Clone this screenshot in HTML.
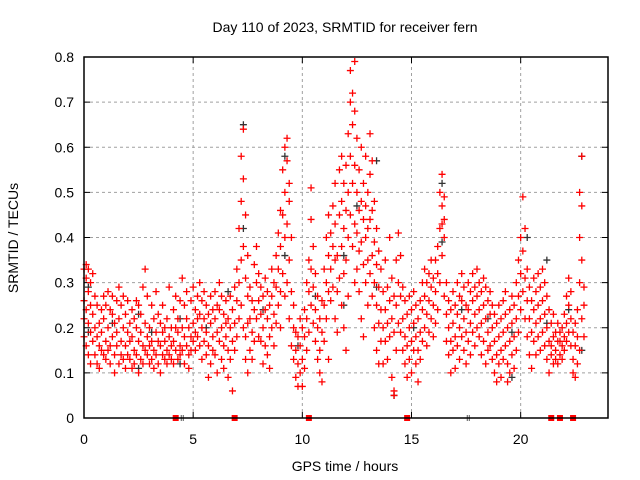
<!DOCTYPE html>
<html><head><meta charset="utf-8"><style>
body{margin:0;background:#fff}
svg{display:block;font-family:"Liberation Sans",sans-serif}
</style></head><body>
<svg id="chart" width="640" height="480" viewBox="0 0 640 480"></svg>
<script>
const xTicks=[0,5,10,15,20];
const yTicks=[0,0.1,0.2,0.3,0.4,0.5,0.6,0.7,0.8];
const yTickLabels=["0","0.1","0.2","0.3","0.4","0.5","0.6","0.7","0.8"];
const redGroups=[
[0.0,[.26,.33,.18,.22]],[0.1,[.31,.16,.24,.34]],[0.2,[.21,.28,.14,.33]],[0.3,[.25,.19,.30,.12]],[0.4,[.17,.32,.23]],
[0.5,[.14,.20,.27]],[0.6,[.12,.18,.25]],[0.7,[.16,.21,.11]],[0.8,[.19,.24,.15]],[0.9,[.22,.14,.27]],
[1.0,[.17,.25,.13]],[1.1,[.20,.28,.15]],[1.2,[.16,.24,.12]],[1.3,[.23,.18,.27]],[1.4,[.14,.21,.10]],
[1.5,[.19,.26,.16]],[1.6,[.12,.22,.29]],[1.7,[.17,.25,.14]],[1.8,[.20,.13,.27]],[1.9,[.16,.23,.11]],
[2.0,[.19,.26,.14]],[2.1,[.13,.21,.17]],[2.2,[.18,.24,.11]],[2.3,[.15,.22,.12]],[2.4,[.20,.14,.26]],
[2.5,[.17,.25,.10]],[2.6,[.13,.19,.23]],[2.7,[.16,.12,.29]],[2.8,[.21,.15,.33]],[2.9,[.14,.18,.27]],
[3.0,[.12,.20,.16]],[3.1,[.17,.25,.13]],[3.2,[.15,.22,.11]],[3.3,[.19,.14,.28]],[3.4,[.12,.17,.23]],
[3.5,[.16,.10,.21]],[3.6,[.14,.19,.25]],[3.7,[.20,.13,.17]],[3.8,[.15,.22,.12]],[3.9,[.18,.14,.29]],
[4.0,[.13,.20,.16]],[4.1,[.17,.24,.12]],[4.2,[.15,.20,.27]],[4.3,[.19,.13,.22]],[4.4,[.16,.26,.14]],
[4.5,[.20,.15,.31]],[4.6,[.12,.18,.25]],[4.7,[.22,.16,.28]],[4.8,[.14,.20,.11]],[4.9,[.18,.26,.15]],
[5.0,[.21,.17,.29]],[5.1,[.24,.15,.19]],[5.2,[.18,.27,.22]],[5.3,[.16,.23,.30]],[5.4,[.20,.26,.13]],
[5.5,[.22,.17,.28]],[5.6,[.19,.25,.14]],[5.7,[.23,.16,.09]],[5.8,[.21,.27,.12]],[5.9,[.18,.24,.15]],
[6.0,[.22,.14,.28]],[6.1,[.19,.25,.10]],[6.2,[.24,.17,.30]],[6.3,[.20,.13,.27]],[6.4,[.23,.16,.11]],
[6.5,[.18,.26,.21]],[6.6,[.15,.22,.09]],[6.7,[.20,.27,.13]],[6.8,[.24,.17,.06]],[6.9,[.21,.29,.15]],
[7.0,[.26,.18,.33]],[7.1,[.30,.22,.42]],[7.2,[.35,.48,.58,.25]],[7.3,[.64,.53,.38,.20]],[7.4,[.45,.31,.18,.13]],
[7.5,[.27,.36,.21,.10]],[7.6,[.22,.15,.29]],[7.7,[.19,.26,.13]],[7.8,[.24,.34,.17]],[7.9,[.30,.22,.38]],
[8.0,[.26,.32,.18]],[8.1,[.23,.17,.29]],[8.2,[.20,.27,.12]],[8.3,[.24,.16,.31]],[8.4,[.22,.28,.14]],
[8.5,[.18,.25,.11]],[8.6,[.27,.20,.33]],[8.7,[.23,.30,.16]],[8.8,[.29,.36,.21]],[8.9,[.33,.41,.25]],
[9.0,[.38,.46,.28,.20]],[9.1,[.45,.55,.32]],[9.2,[.60,.50,.40,.27]],[9.3,[.62,.57,.43,.30]],[9.4,[.48,.35,.52,.22]],
[9.5,[.40,.28,.16]],[9.6,[.20,.13,.25]],[9.7,[.15,.09,.19]],[9.8,[.12,.18,.07]],[9.9,[.16,.10,.22]],
[10.0,[.13,.07,.20]],[10.1,[.18,.24,.11]],[10.2,[.22,.15,.30]],[10.3,[.28,.35,.19]],[10.4,[.33,.44,.51,.25]],
[10.5,[.29,.38,.21]],[10.6,[.24,.17,.32]],[10.7,[.20,.13,.27]],[10.8,[.15,.22,.10]],[10.9,[.19,.26,.08]],
[11.0,[.25,.33,.17]],[11.1,[.30,.40,.22]],[11.2,[.36,.45,.28,.13]],[11.3,[.41,.33,.26]],[11.4,[.47,.38,.29]],
[11.5,[.43,.52,.35,.22]],[11.6,[.36,.28,.19]],[11.7,[.45,.55,.31]],[11.8,[.58,.48,.38,.25]],[11.9,[.52,.42,.32,.20]],
[12.0,[.56,.46,.35,.15]],[12.1,[.63,.50,.40,.27]],[12.2,[.70,.77,.58,.45]],[12.3,[.72,.65,.52,.38]],[12.4,[.79,.68,.56,.43,.30]],
[12.5,[.62,.50,.41,.33]],[12.6,[.55,.46,.37,.28]],[12.7,[.60,.48,.39,.22]],[12.8,[.52,.44,.34,.18]],[12.9,[.58,.47,.30,.40]],
[13.0,[.50,.42,.35,.25]],[13.1,[.63,.54,.44,.32]],[13.2,[.57,.46,.36,.27]],[13.3,[.48,.39,.30,.20]],[13.4,[.42,.34,.25,.15]],
[13.5,[.37,.29,.21,.12]],[13.6,[.33,.24,.17]],[13.7,[.28,.20,.12]],[13.8,[.24,.35,.17]],[13.9,[.21,.29,.13]],
[14.0,[.26,.40,.18]],[14.1,[.22,.31,.09]],[14.2,[.19,.27,.05,.06]],[14.3,[.25,.35,.15]],[14.4,[.30,.41,.21]],
[14.5,[.27,.19,.36]],[14.6,[.22,.15,.29]],[14.7,[.18,.26,.12]],[14.8,[.23,.16,.09]],[14.9,[.20,.27,.13]],
[15.0,[.17,.24,.10]],[15.1,[.21,.15,.28]],[15.2,[.18,.25,.12]],[15.3,[.22,.15,.08]],[15.4,[.19,.26,.13]],
[15.5,[.24,.17,.30]],[15.6,[.27,.20,.33]],[15.7,[.23,.30,.16]],[15.8,[.26,.19,.32]],[15.9,[.29,.22,.35]],
[16.0,[.25,.31,.18]],[16.1,[.28,.21,.35]],[16.2,[.32,.24,.38]],[16.3,[.42,.50,.30]],[16.4,[.54,.47,.43,.36]],
[16.5,[.49,.44,.40,.27]],[16.6,[.23,.17,.30]],[16.7,[.20,.14,.26]],[16.8,[.24,.17,.10]],[16.9,[.21,.28,.15]],
[17.0,[.18,.25,.11]],[17.1,[.23,.16,.30]],[17.2,[.20,.27,.13]],[17.3,[.26,.18,.32]],[17.4,[.22,.29,.15]],
[17.5,[.19,.25,.12]],[17.6,[.24,.30,.17]],[17.7,[.21,.28,.14]],[17.8,[.26,.19,.32]],[17.9,[.23,.29,.16]],
[18.0,[.27,.20,.33]],[18.1,[.24,.18,.30]],[18.2,[.21,.28,.14]],[18.3,[.25,.17,.31]],[18.4,[.22,.29,.12]],
[18.5,[.19,.26,.15]],[18.6,[.23,.16,.28]],[18.7,[.20,.13,.25]],[18.8,[.17,.23,.10]],[18.9,[.21,.14,.08]],
[19.0,[.18,.25,.12]],[19.1,[.22,.15,.09]],[19.2,[.19,.26,.13]],[19.3,[.23,.16,.28]],[19.4,[.20,.12,.08]],
[19.5,[.17,.24,.10]],[19.6,[.21,.14,.27]],[19.7,[.18,.25,.11]],[19.8,[.22,.30,.15]],[19.9,[.27,.35,.19]],
[20.0,[.32,.40,.24]],[20.1,[.37,.49,.28]],[20.2,[.31,.22,.42]],[20.3,[.26,.18,.33]],[20.4,[.22,.29,.14]],
[20.5,[.19,.26,.11]],[20.6,[.24,.17,.31]],[20.7,[.21,.28,.14]],[20.8,[.25,.18,.32]],[20.9,[.22,.29,.15]],
[21.0,[.26,.19,.33]],[21.1,[.23,.30,.16]],[21.2,[.20,.27,.13]],[21.3,[.17,.24,.10]],[21.4,[.21,.14,.16]],
[21.5,[.18,.12,.23]],[21.6,[.15,.19,.13]],[21.7,[.17,.21,.12]],[21.8,[.14,.19,.17]],[21.9,[.16,.20,.13]],
[22.0,[.18,.23,.15]],[22.1,[.21,.27,.17]],[22.2,[.25,.31,.19]],[22.3,[.22,.16,.28]],[22.4,[.19,.13,.10]],
[22.5,[.16,.09,.21]],[22.6,[.12,.18,.24]],[22.7,[.40,.50,.15,.30]],[22.8,[.58,.47,.35,.22]],[22.9,[.25,.18,.29]]
];
const blackGroups=[
[0.2,[.29,.19]],[1.3,[.21]],[2.5,[.23,.11]],[3.1,[.19]],[4.4,[.12,.22]],[5.6,[.20]],[6.6,[.28]],
[7.3,[.65,.42]],[8.2,[.24]],[9.2,[.58,.36]],[9.8,[.16]],[10.6,[.27]],[11.9,[.36,.25]],[12.5,[.47]],
[13.4,[.57,.29]],[14.2,[.05]],[15.1,[.20]],[16.4,[.39,.52]],[17.3,[.24]],[18.5,[.22]],[19.6,[.09,.19]],
[20.3,[.40]],[21.2,[.35,.21]],[22.2,[.24]],[22.8,[.15,.58]]
];
const zeroRedHours=[4.2,6.9,10.3,14.8,21.4,21.8,22.4];
const zeroBlackHours=[4.5,17.6];

const X0=84,X1=608,Y0=418,Y1=57,XMAX=24,YMAX=0.8;
const xs=h=>X0+(X1-X0)*h/XMAX;
const ys=v=>Y0-(Y0-Y1)*v/YMAX;
const svg=document.getElementById('chart');
const NS='http://www.w3.org/2000/svg';
function mk(tag,attrs,parent){const e=document.createElementNS(NS,tag);for(const k in attrs)e.setAttribute(k,attrs[k]);(parent||svg).appendChild(e);return e;}

const grid=mk('g',{});


yTicks.forEach((v,i)=>{
  if(i>0&&i<yTicks.length-1){mk('line',{x1:X0,x2:X1,y1:ys(v),y2:ys(v),stroke:'#a0a0a0','stroke-dasharray':'3,3'},grid);}
  const t=mk('text',{x:X0-10,y:ys(v)+5,'text-anchor':'end','font-size':14,fill:'#000'});
  t.textContent=yTickLabels[i];
  
  
  mk('line',{x1:X0,x2:X0+6,y1:ys(v),y2:ys(v),stroke:'#000'});
  mk('line',{x1:X1,x2:X1-6,y1:ys(v),y2:ys(v),stroke:'#000'});
});
xTicks.forEach(h=>{
  if(h>0)mk('line',{x1:xs(h),x2:xs(h),y1:Y0,y2:Y1,stroke:'#a0a0a0','stroke-dasharray':'3,3'},grid);
  const t=mk('text',{x:xs(h),y:Y0+26,'text-anchor':'middle','font-size':14,fill:'#000'});
  t.textContent=String(h);
  
  
  mk('line',{x1:xs(h),x2:xs(h),y1:Y0,y2:Y0-6,stroke:'#000'});
  mk('line',{x1:xs(h),x2:xs(h),y1:Y1,y2:Y1+6,stroke:'#000'});
});

function plus(h,v,color,g){
  const x=xs(h),y=ys(v);
  mk('path',{d:`M${x-3.5} ${y}H${x+3.5}M${x} ${y-3.5}V${y+3.5}`,stroke:color,'stroke-width':1.3,fill:'none'},g);
}
const gb=mk('g',{});


blackGroups.forEach(([h,vals])=>vals.forEach(v=>plus(h,v,'#333',gb)));
const gr=mk('g',{});


redGroups.forEach(([h,vals])=>vals.forEach(v=>plus(h,v,'#ff0000',gr)));

zeroRedHours.forEach(h=>{
  const r=mk('rect',{x:xs(h)-3,y:Y0-3,width:6,height:6,fill:'#ff0000'});
  
  
});
zeroBlackHours.forEach(h=>{
  mk('path',{d:`M${xs(h)-1} ${Y0-3}V${Y0+3}M${xs(h)+1} ${Y0-3}V${Y0+3}`,stroke:'#555','stroke-width':1});
});

const frame=mk('rect',{x:X0,y:Y1,width:X1-X0,height:Y0-Y1,fill:'none',stroke:'#000','stroke-width':1.5});


const title=mk('text',{x:345,y:32,'text-anchor':'middle','font-size':14});
title.textContent='Day 110 of 2023, SRMTID for receiver fern';


const xl=mk('text',{x:345,y:471,'text-anchor':'middle','font-size':14});
xl.textContent='GPS time / hours';


const yl=mk('text',{x:0,y:0,'text-anchor':'middle','font-size':14,transform:'translate(18,238) rotate(-90)'});
yl.textContent='SRMTID / TECUs';


</script>
</body></html>
